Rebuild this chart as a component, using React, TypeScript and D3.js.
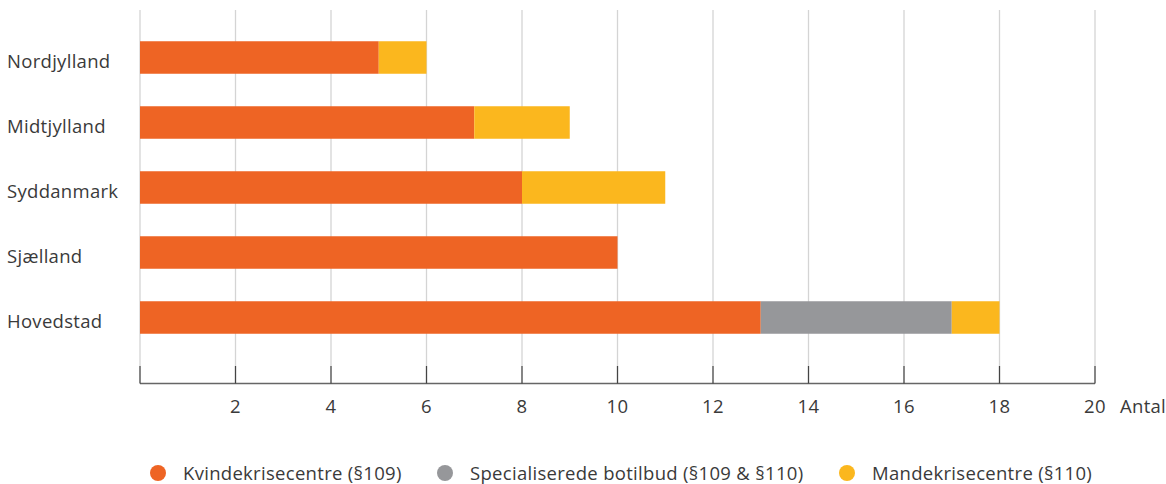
import React from "react";
import * as d3 from "d3";

const regions = ["Nordjylland", "Midtjylland", "Syddanmark", "Sjælland", "Hovedstad"];
const kvinde = [5, 7, 8, 10, 13];
const special = [0, 0, 0, 0, 4];
const mande = [1, 2, 3, 0, 1];
const xTicks = [2, 4, 6, 8, 10, 12, 14, 16, 18, 20];
const seriesNames = ["Kvindekrisecentre (§109)", "Specialiserede botilbud (§109 & §110)", "Mandekrisecentre (§110)"];
const colors = ["#EE6424", "#96979A", "#FBB71E"];

const W = 1166;
const H = 484;
const FONT = "'Open Sans', sans-serif";
const TEXT = "#3a3a3a";
const FS = 18.5;
const LS = 0.3;

export default function App() {
  const x = d3.scaleLinear().domain([0, 20]).range([140, 1095]);
  const y = d3.scaleBand().domain(regions).range([25, 350]).paddingInner(0.5).paddingOuter(0.25);
  const rows = regions.map((r, i) => ({ region: r, kvinde: kvinde[i], special: special[i], mande: mande[i] }));
  const stack = d3.stack<any>().keys(["kvinde", "special", "mande"])(rows);
  const axisY = 383.5;
  const legendX = [158, 445, 847];

  return (
    <svg width={W} height={H} style={{ position: "absolute", left: 0, top: 0, background: "#fff" }} fontFamily={FONT}>
      {[0, ...xTicks].map((t) => (
        <line key={"g" + t} x1={x(t)} x2={x(t)} y1={10} y2={366} stroke="#d4d4d4" strokeWidth={1.3} />
      ))}
      {stack.map((s, si) =>
        s.map((d, i) =>
          d[1] > d[0] ? (
            <rect
              key={si + "-" + i}
              x={x(d[0])}
              y={y(regions[i])}
              width={x(d[1]) - x(d[0])}
              height={y.bandwidth()}
              fill={colors[si]}
            />
          ) : null
        )
      )}
      <line x1={x(0)} x2={x(20)} y1={axisY} y2={axisY} stroke="#666" strokeWidth={1.5} />
      {[0, ...xTicks].map((t) => (
        <line key={"t" + t} x1={x(t)} x2={x(t)} y1={366} y2={axisY} stroke="#444" strokeWidth={1.3} />
      ))}
      {xTicks.map((t) => (
        <text key={"l" + t} x={x(t)} y={413} textAnchor="middle" fontSize={FS} letterSpacing={LS} fill={TEXT}>
          {t}
        </text>
      ))}
      <text x={1120} y={413} fontSize={FS} letterSpacing={LS} fill={TEXT}>Antal</text>
      {regions.map((r) => (
        <text key={r} x={7} y={(y(r) as number) + y.bandwidth() / 2 + 10} fontSize={FS} letterSpacing={LS} fill={TEXT}>
          {r}
        </text>
      ))}
      {seriesNames.map((n, i) => (
        <g key={n}>
          <circle cx={legendX[i]} cy={473} r={8} fill={colors[i]} />
          <text x={legendX[i] + 25} y={480} fontSize={FS} letterSpacing={LS} fill={TEXT}>
            {n}
          </text>
        </g>
      ))}
    </svg>
  );
}
